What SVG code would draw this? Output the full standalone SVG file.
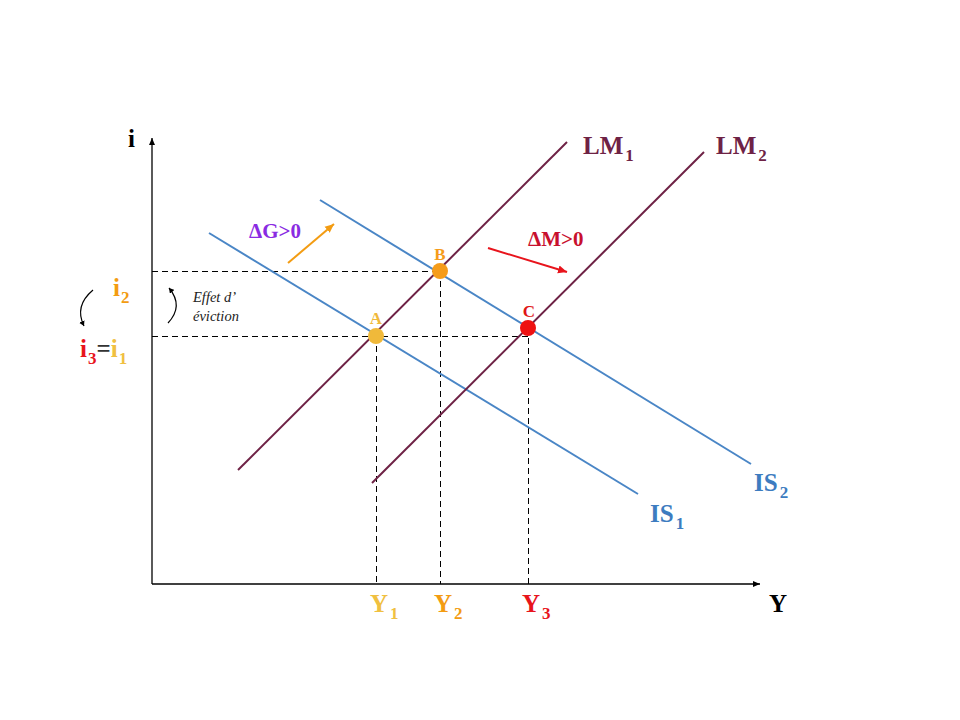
<svg xmlns="http://www.w3.org/2000/svg" width="960" height="720" viewBox="0 0 960 720">
<style>
.t{font-family:"Liberation Serif","DejaVu Serif",serif;font-weight:bold}
.sub{font-size:17px}
.is{stroke:#4a86c6;stroke-width:2;fill:none}
.lm{stroke:#6e2245;stroke-width:2;fill:none}
.ax{stroke:#000;stroke-width:1.3;fill:none}
.dash{stroke:#000;stroke-width:1;stroke-dasharray:6 4;fill:none}
</style>
<defs>
<marker id="ah" markerWidth="8" markerHeight="8" refX="7" refY="4" orient="auto" markerUnits="userSpaceOnUse"><path d="M0,1 L7,4 L0,7 Z" fill="#000"/></marker>
<marker id="ao" markerWidth="10" markerHeight="10" refX="9" refY="5" orient="auto" markerUnits="userSpaceOnUse"><path d="M0,1 L9,5 L0,9 Z" fill="#f39c12"/></marker>
<marker id="ar" markerWidth="10" markerHeight="10" refX="9" refY="5" orient="auto" markerUnits="userSpaceOnUse"><path d="M0,1 L9,5 L0,9 Z" fill="#e8141c"/></marker>
<marker id="ac" markerWidth="6" markerHeight="6" refX="5" refY="3" orient="auto" markerUnits="userSpaceOnUse"><path d="M0,0 L5,3 L0,6 Z" fill="#000"/></marker>
</defs>
<rect width="960" height="720" fill="#fff"/>
<g id="connectors">
<line class="dash" x1="152" y1="271.5" x2="440" y2="271.5"/>
<line class="dash" x1="152" y1="336.5" x2="528" y2="336.5"/>
<line class="dash" x1="376.5" y1="336" x2="376.5" y2="584"/>
<line class="dash" x1="440.5" y1="271" x2="440.5" y2="584"/>
<line class="dash" x1="528.5" y1="328" x2="528.5" y2="584"/>
<line class="ax" x1="152" y1="584" x2="152" y2="138" marker-end="url(#ah)"/>
<line class="ax" x1="152" y1="584" x2="760" y2="584" marker-end="url(#ah)"/>
<line class="is" x1="209" y1="233" x2="638" y2="494"/>
<line class="is" x1="320" y1="200" x2="751" y2="464"/>
<line class="lm" x1="238" y1="470" x2="567" y2="142"/>
<line class="lm" x1="372" y1="483" x2="704" y2="152"/>
<line stroke="#f39c12" stroke-width="2" x1="288" y1="263" x2="334" y2="224" marker-end="url(#ao)"/>
<line stroke="#e8141c" stroke-width="2" x1="488" y1="248" x2="567" y2="272" marker-end="url(#ar)"/>
<path d="M93,290 Q74,306 84,326" stroke="#000" stroke-width="1.2" fill="none" marker-end="url(#ac)"/>
<path d="M168,323 Q184,306 169,288" stroke="#000" stroke-width="1.2" fill="none" marker-end="url(#ac)"/>
</g>
<g id="pointA"><circle cx="376" cy="336" r="8" fill="#f0b93a"/><text class="t" x="376" y="324" font-size="17" fill="#f0b93a" text-anchor="middle">A</text></g>
<g id="pointB"><circle cx="440" cy="271" r="8" fill="#f59c1a"/><text class="t" x="440" y="260" font-size="17" fill="#f59c1a" text-anchor="middle">B</text></g>
<g id="pointC"><circle cx="528" cy="328" r="8" fill="#ee1111"/><text class="t" x="529" y="317" font-size="17" fill="#e01515" text-anchor="middle">C</text></g>
<g id="labels">
<text class="t" x="128" y="147" font-size="25" fill="#000">i</text>
<text class="t" x="769" y="612" font-size="25" fill="#000">Y</text>
<text class="t" x="583" y="154" font-size="25" fill="#6e2245">LM<tspan class="sub" dx="2" dy="7">1</tspan></text>
<text class="t" x="716" y="154" font-size="25" fill="#6e2245">LM<tspan class="sub" dx="2" dy="7">2</tspan></text>
<text class="t" x="650" y="522" font-size="25" fill="#3d7cc0">IS<tspan class="sub" dx="2" dy="7">1</tspan></text>
<text class="t" x="754" y="491" font-size="25" fill="#3d7cc0">IS<tspan class="sub" dx="2" dy="7">2</tspan></text>
<text class="t" x="370" y="612" font-size="25" fill="#f0c040">Y<tspan class="sub" dx="2" dy="7">1</tspan></text>
<text class="t" x="434" y="612" font-size="25" fill="#f39c12">Y<tspan class="sub" dx="2" dy="7">2</tspan></text>
<text class="t" x="522" y="612" font-size="25" fill="#e8141c">Y<tspan class="sub" dx="2" dy="7">3</tspan></text>
<text class="t" x="113" y="296" font-size="25" fill="#f39c12">i<tspan class="sub" dx="1" dy="7">2</tspan></text>
<text class="t" x="80" y="357" font-size="25"><tspan fill="#e8141c">i<tspan class="sub" dx="1" dy="7">3</tspan></tspan><tspan fill="#333" dy="-7">=</tspan><tspan fill="#f0c040">i<tspan class="sub" dx="1" dy="7">1</tspan></tspan></text>
<text class="t" x="249" y="238" font-size="21" fill="#8a2be2">ΔG&gt;0</text>
<text class="t" x="528" y="246" font-size="21" fill="#c8102e">ΔM&gt;0</text>
<text x="193" y="302" font-size="14.5" font-style="italic" font-family="Liberation Serif,serif" fill="#222">Effet d’</text>
<text x="193" y="321" font-size="14.5" font-style="italic" font-family="Liberation Serif,serif" fill="#222">éviction</text>
</g>
</svg>
